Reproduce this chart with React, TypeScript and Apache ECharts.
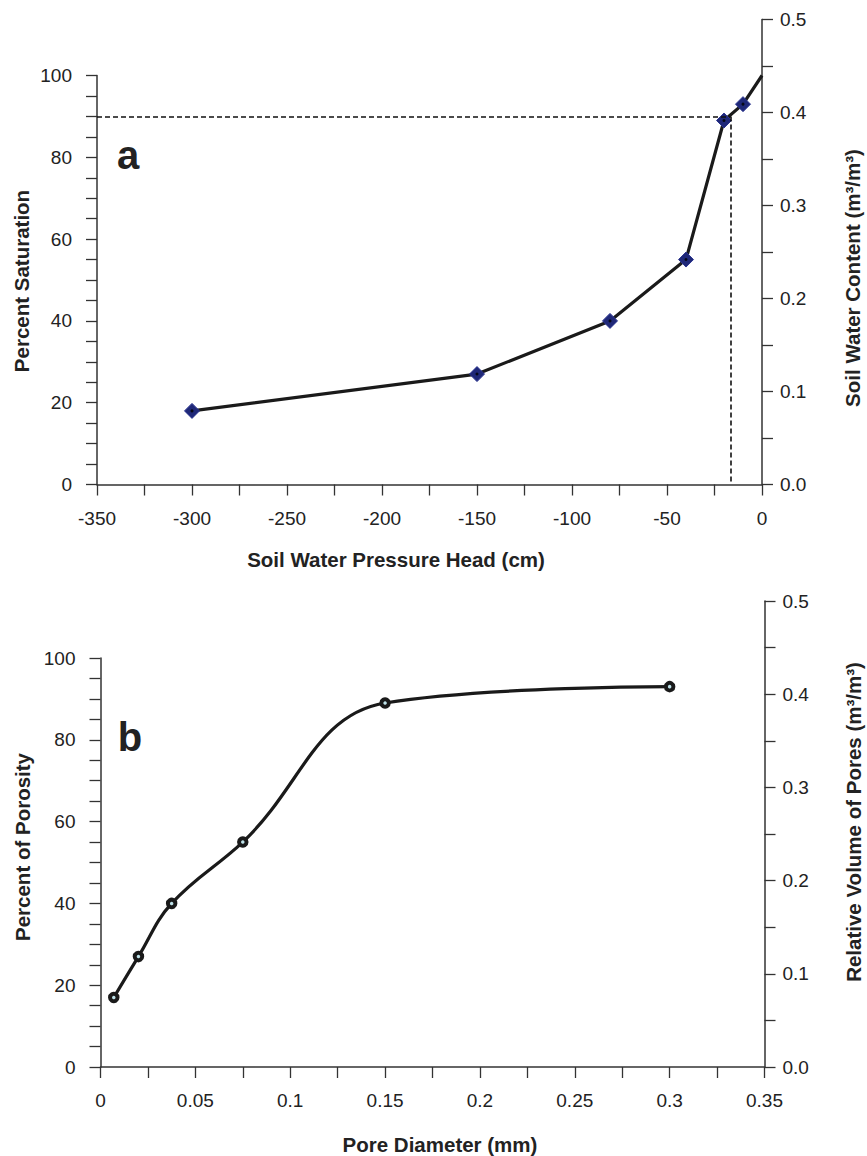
import React, { useEffect, useRef } from "react";
import * as echarts from "echarts";

// Panel a: soil water retention
const pressureHead = [-300, -150, -80, -40, -20, -10, 0];
const saturation = [18, 27, 40, 55, 89, 93, 100];
const markedPoints = 6; // last point (0, 100) has no marker
const refHead = -16.5;
const refSaturation = 90;

// Panel b: pore size distribution
const poreDiameter = [0.007, 0.02, 0.0375, 0.075, 0.15, 0.3];
const porosity = [17, 27, 40, 55, 89, 93];

const FONT = "'Liberation Sans', Arial, Helvetica, sans-serif";
const AXIS_COLOR = "#333";
const TEXT_COLOR = "#222";

function valueAxisBase(extra: any) {
  return {
    type: "value",
    splitLine: { show: false },
    axisLine: { show: true, onZero: false, lineStyle: { color: AXIS_COLOR, width: 1.5 } },
    axisTick: { show: true, length: 11, lineStyle: { color: AXIS_COLOR, width: 1.3 } },
    minorTick: { show: true, length: 11, lineStyle: { color: AXIS_COLOR, width: 1.3 } },
    axisLabel: { fontSize: 19, color: TEXT_COLOR, fontFamily: FONT },
    ...extra,
  };
}

export default function App() {
  const ref = useRef<HTMLDivElement>(null);

  useEffect(() => {
    if (!ref.current) return;
    const chart = echarts.init(ref.current, undefined, { renderer: "svg" });

    const topData = pressureHead.map((h, i) => {
      const item: any = { value: [h, saturation[i]] };
      if (i >= markedPoints) item.symbol = "none";
      return item;
    });
    const topDots = pressureHead.slice(0, markedPoints).map((h, i) => [h, saturation[i]]);
    const bottomData = poreDiameter.map((d, i) => [d, porosity[i]]);

    const fmt2 = (v: number) => String(+v.toFixed(2));
    const fmt1 = (v: number) => v.toFixed(1);

    const titleStyle = (text: string) => ({
      text,
      font: `bold 20.5px ${FONT}`,
      fill: TEXT_COLOR,
      textAlign: "center",
      textVerticalAlign: "middle",
      align: "center",
      verticalAlign: "middle",
    });

    chart.setOption({
      animation: false,
      backgroundColor: "#fff",
      grid: [
        { left: 97, top: 75.5, width: 665, height: 409 },
        { left: 97, top: 19.5, width: 665, height: 465 },
        { left: 100.5, top: 658, width: 664, height: 409 },
        { left: 100.5, top: 601, width: 664, height: 466 },
      ],
      xAxis: [
        valueAxisBase({
          gridIndex: 0,
          min: -350,
          max: 0,
          interval: 50,
          minorTick: { show: true, splitNumber: 2, length: 11, lineStyle: { color: AXIS_COLOR, width: 1.3 } },
          axisLabel: { fontSize: 19, color: TEXT_COLOR, fontFamily: FONT, margin: 24 },
        }),
        { gridIndex: 1, type: "value", show: false, min: -350, max: 0 },
        valueAxisBase({
          gridIndex: 2,
          min: 0,
          max: 0.35,
          interval: 0.05,
          minorTick: { show: true, splitNumber: 2, length: 11, lineStyle: { color: AXIS_COLOR, width: 1.3 } },
          axisLabel: { fontSize: 19, color: TEXT_COLOR, fontFamily: FONT, margin: 24, formatter: fmt2 },
        }),
        { gridIndex: 3, type: "value", show: false, min: 0, max: 0.35 },
      ],
      yAxis: [
        valueAxisBase({
          gridIndex: 0,
          position: "left",
          min: 0,
          max: 100,
          interval: 20,
          minorTick: { show: true, splitNumber: 4, length: 11, lineStyle: { color: AXIS_COLOR, width: 1.3 } },
          axisLabel: { fontSize: 19, color: TEXT_COLOR, fontFamily: FONT, margin: 25 },
        }),
        valueAxisBase({
          gridIndex: 1,
          position: "right",
          min: 0,
          max: 0.5,
          interval: 0.1,
          minorTick: { show: true, splitNumber: 2, length: 11, lineStyle: { color: AXIS_COLOR, width: 1.3 } },
          axisLabel: { fontSize: 19, color: TEXT_COLOR, fontFamily: FONT, margin: 18, formatter: fmt1 },
        }),
        valueAxisBase({
          gridIndex: 2,
          position: "left",
          min: 0,
          max: 100,
          interval: 20,
          minorTick: { show: true, splitNumber: 4, length: 11, lineStyle: { color: AXIS_COLOR, width: 1.3 } },
          axisLabel: { fontSize: 19, color: TEXT_COLOR, fontFamily: FONT, margin: 25 },
        }),
        valueAxisBase({
          gridIndex: 3,
          position: "right",
          min: 0,
          max: 0.5,
          interval: 0.1,
          minorTick: { show: true, splitNumber: 2, length: 11, lineStyle: { color: AXIS_COLOR, width: 1.3 } },
          axisLabel: { fontSize: 19, color: TEXT_COLOR, fontFamily: FONT, margin: 18, formatter: fmt1 },
        }),
      ],
      series: [
        {
          type: "line",
          xAxisIndex: 0,
          yAxisIndex: 0,
          data: topData,
          symbol: "diamond",
          symbolSize: 15,
          showAllSymbol: true,
          lineStyle: { color: "#1a1a1a", width: 3.2 },
          itemStyle: { color: "#1f2878", borderColor: "#2a3390", borderWidth: 1 },
          z: 3,
          markLine: {
            silent: true,
            symbol: ["none", "none"],
            label: { show: false },
            lineStyle: { color: "#111", width: 1.6, type: [5, 3] },
            data: [
              [{ coord: [-350, refSaturation] }, { coord: [refHead, refSaturation] }],
              [{ coord: [refHead, refSaturation] }, { coord: [refHead, 0] }],
            ],
          },
        },
        {
          type: "scatter",
          xAxisIndex: 0,
          yAxisIndex: 0,
          data: topDots,
          symbol: "circle",
          symbolSize: 3,
          itemStyle: { color: "#000" },
          z: 4,
          silent: true,
        },
        {
          type: "line",
          xAxisIndex: 2,
          yAxisIndex: 2,
          data: bottomData,
          smooth: 0.4,
          symbol: "circle",
          symbolSize: 7.5,
          showAllSymbol: true,
          lineStyle: { color: "#1a1a1a", width: 3.2 },
          itemStyle: { color: "#bfe3ea", borderColor: "#1a1a1a", borderWidth: 4 },
          z: 3,
        },
      ],
      graphic: [
        {
          type: "text",
          x: 128,
          y: 155,
          style: { ...titleStyle("a"), font: `bold 40px ${FONT}` },
        },
        {
          type: "text",
          x: 130,
          y: 737,
          style: { ...titleStyle("b"), font: `bold 40px ${FONT}` },
        },
        { type: "text", x: 396, y: 559, style: titleStyle("Soil Water Pressure Head (cm)") },
        { type: "text", x: 440, y: 1144, style: titleStyle("Pore Diameter (mm)") },
        { type: "text", x: 21, y: 281, rotation: Math.PI / 2, style: titleStyle("Percent Saturation") },
        { type: "text", x: 852, y: 278, rotation: Math.PI / 2, style: titleStyle("Soil Water Content (m³/m³)") },
        { type: "text", x: 22, y: 847, rotation: Math.PI / 2, style: titleStyle("Percent of Porosity") },
        { type: "text", x: 853, y: 822, rotation: Math.PI / 2, style: titleStyle("Relative Volume of Pores (m³/m³)") },
      ],
    });

    return () => chart.dispose();
  }, []);

  return (
    <div
      ref={ref}
      style={{ position: "fixed", left: 0, top: 0, width: 867, height: 1156, background: "#fff" }}
    />
  );
}
